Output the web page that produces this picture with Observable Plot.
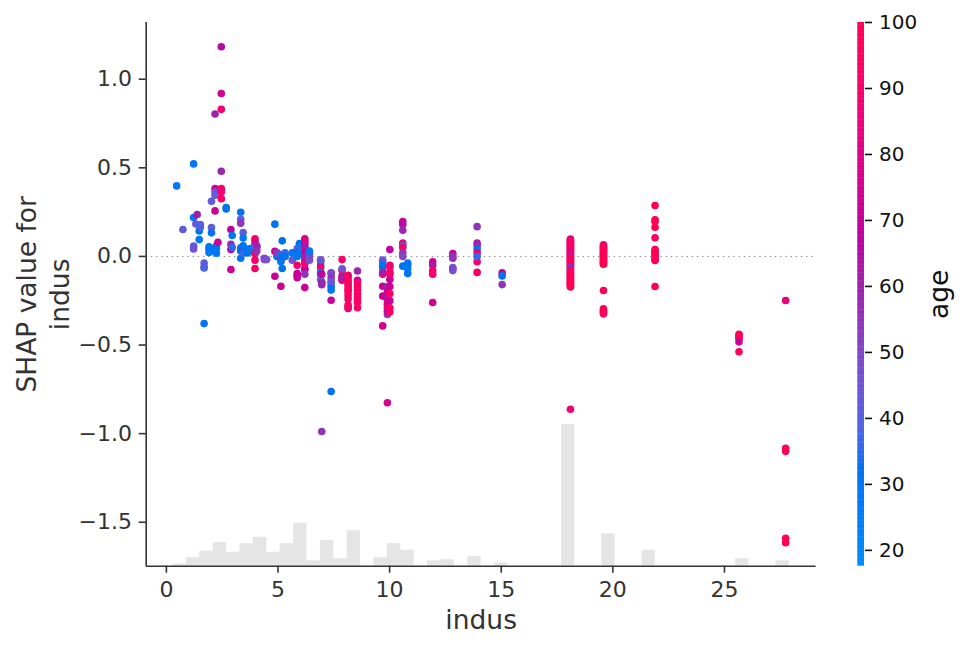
<!DOCTYPE html>
<html><head><meta charset="utf-8">
<script src="https://cdn.jsdelivr.net/npm/d3@7"></script>
<script src="https://cdn.jsdelivr.net/npm/@observablehq/plot@0.6"></script>
<style>
body{margin:0;background:#fff;}
#wrap{position:relative;width:968px;height:648px;background:#fff;}
#wrap svg{position:absolute;top:0;font-family:"DejaVu Sans",sans-serif !important;background:transparent !important;}
</style></head><body><div id="wrap"></div>
<script>
// ---------- data ----------
const indusCols = [0.46, 0.74, 1.22, 1.32, 1.38, 1.47, 1.52, 1.69, 1.91, 2.02, 2.18, 2.24, 2.31, 2.46, 2.68, 2.89, 2.95, 3.33, 3.44, 3.64, 3.78, 3.97, 4.05, 4.39, 4.49, 4.86, 4.95, 5.13, 5.19, 5.32, 5.64, 5.86, 5.96, 6.07, 6.2, 6.41, 6.91, 6.96, 7.38, 7.87, 8.14, 8.56, 9.69, 9.9, 10.01, 10.59, 10.81, 11.93, 12.83, 13.92, 15.04, 18.1, 19.58, 21.89, 25.65, 27.74];
const shapByCol = [
  [0.398],
  [0.152],
  [0.522, 0.219, 0.058, 0.042],
  [0.183],
  [0.236],
  [0.095, 0.144],
  [0.18, 0.165],
  [-0.037, -0.06, -0.065, -0.379],
  [0.054, 0.04, 0.022],
  [0.311, 0.163, 0.133, 0.03, 0.045],
  [0.804, 0.383, 0.364, 0.257, 0.345],
  [0.045, 0.018, 0.06],
  [0.08],
  [1.183, 0.919, 0.83, 0.481, 0.383, 0.364, 0.326, 0.375],
  [0.276, 0.268],
  [0.152, 0.069, 0.039, -0.074],
  [0.118, 0.05],
  [0.249, 0.21, 0.187, 0.048, -0.01, 0.03],
  [0.135, 0.104, 0.039, 0.02, 0.06],
  [0.02, 0.04],
  [0.045, 0.03],
  [0.088, 0.1, 0.07, 0.016, -0.021, -0.068, 0.05],
  [0.05, 0.06, 0.03],
  [-0.018, -0.01],
  [-0.018],
  [0.182, 0.029, -0.112],
  [0.02, 0.0, 0.02],
  [-0.02, -0.168, -0.03, 0.01],
  [-0.068, 0.088, 0.0],
  [0.02, 0.0],
  [-0.021, 0.02],
  [0.045, -0.05, -0.097, -0.106, -0.12, 0.02, 0.0],
  [0.073, 0.03],
  [0.05],
  [0.088, 0.075, 0.05, 0.02, -0.02, -0.068, -0.074, -0.176, 0.0, -0.04, 0.06, -0.1, 0.1],
  [0.016, -0.021, 0.0, 0.03],
  [-0.021, -0.031, -0.05, -0.02, -0.063, -0.09, -0.1, -0.13],
  [-0.144, -0.15, -0.1, -0.16, -0.988],
  [-0.093, -0.097, -0.12, -0.15, -0.17, -0.19, -0.247, -0.762, -0.14],
  [-0.018, -0.078, -0.11, -0.13, -0.07, -0.135, -0.12],
  [-0.106, -0.115, -0.135, -0.15, -0.16, -0.19, -0.22, -0.24, -0.275, -0.294, -0.285, -0.2, -0.175],
  [-0.082, -0.135, -0.15, -0.17, -0.19, -0.21, -0.23, -0.245, -0.29, -0.26],
  [-0.021, -0.031, -0.05, -0.063, -0.094, -0.168, -0.224, -0.392, -0.1, -0.09],
  [-0.172, -0.22, -0.25, -0.29, -0.328, -0.826, -0.2, -0.27, -0.31],
  [0.039, -0.05, -0.09, -0.13, -0.17, -0.21, -0.25, -0.29, -0.313, -0.1, -0.06],
  [0.197, 0.18, 0.148, 0.076, 0.06, 0.05, 0.02, -0.055, 0.0],
  [-0.037, -0.07, -0.097, -0.05],
  [-0.03, -0.05, -0.08, -0.1, -0.26],
  [0.016, -0.01, -0.063, -0.08, 0.0, -0.07],
  [0.168, 0.076, 0.06, 0.04, 0.02, -0.03, -0.09, 0.0],
  [-0.093, -0.11, -0.159],
  [0.098, 0.093, 0.088, 0.083, 0.078, 0.072, 0.067, 0.061, 0.055, 0.05, 0.045, 0.039, 0.034, 0.028, 0.022, 0.017, 0.011, 0.006, 0.001, -0.005, -0.01, -0.016, -0.021, -0.027, -0.032, -0.038, -0.044, -0.049, -0.055, -0.06, -0.066, -0.071, -0.077, -0.082, -0.088, -0.094, -0.099, -0.105, -0.11, -0.116, -0.122, -0.127, -0.133, -0.138, -0.144, -0.15, -0.155, -0.161, -0.166, -0.172, -0.862],
  [0.065, 0.06, 0.054, 0.049, 0.043, 0.037, 0.032, 0.026, 0.02, 0.015, 0.009, 0.004, -0.002, -0.008, -0.013, -0.019, -0.025, -0.03, -0.036, -0.041, -0.044, -0.192, -0.296, -0.304, -0.311, -0.318, -0.324],
  [0.287, 0.207, 0.197, 0.165, 0.105, 0.039, 0.032, 0.022, 0.015, 0.005, -0.008, -0.015, -0.023, -0.17],
  [-0.44, -0.447, -0.456, -0.462, -0.482, -0.538],
  [-0.249, -1.083, -1.1, -1.59, -1.615]
];
const ageByCol = [
  [28],
  [42],
  [28, 30, 42, 45],
  [44],
  [60],
  [28, 30],
  [42, 38],
  [42, 40, 38, 30],
  [28, 30, 28],
  [42, 42, 30, 25, 30],
  [60, 72, 48, 72, 42],
  [30, 28, 30],
  [72],
  [65, 72, 88, 58, 92, 90, 92, 85],
  [30, 32],
  [70, 58, 72, 72],
  [28, 35],
  [30, 42, 55, 28, 30, 30],
  [42, 28, 72, 35, 30],
  [32, 28],
  [30, 28],
  [75, 88, 72, 92, 90, 92, 40],
  [58, 60, 55],
  [48, 50],
  [46],
  [30, 72, 72],
  [30, 30, 55],
  [72, 72, 28, 35],
  [30, 32, 30],
  [35, 30],
  [45, 30],
  [42, 90, 72, 70, 72, 32, 28],
  [30, 28],
  [35],
  [72, 85, 90, 72, 72, 90, 70, 72, 60, 85, 62, 55, 80],
  [30, 45, 50, 28],
  [72, 30, 30, 42, 90, 28, 30, 45],
  [42, 58, 72, 58, 55],
  [55, 48, 55, 42, 30, 30, 72, 30, 45],
  [92, 92, 92, 90, 45, 92, 60],
  [92, 90, 95, 92, 92, 75, 92, 92, 92, 75, 95, 95, 92],
  [58, 72, 92, 92, 92, 92, 92, 95, 92, 92],
  [45, 42, 30, 30, 72, 72, 72, 75, 85, 60],
  [60, 60, 75, 90, 55, 75, 72, 80, 65],
  [72, 90, 92, 72, 72, 92, 72, 92, 92, 90, 88],
  [72, 65, 58, 88, 35, 90, 55, 30, 50],
  [28, 28, 30, 30],
  [75, 62, 90, 90, 75],
  [72, 58, 45, 45, 55, 48],
  [55, 62, 58, 30, 88, 92, 92, 35],
  [75, 30, 55],
  [75, 80, 88, 95, 72, 92, 100, 85, 95, 90, 100, 96, 88, 93, 100, 72, 95, 89, 100, 62, 94, 98, 90, 100, 85, 95, 92, 100, 97, 60, 58, 55, 62, 94, 100, 91, 96, 100, 93, 98, 100, 89, 95, 100, 92, 97, 100, 94, 98, 100, 86],
  [86, 88, 92, 98, 100, 90, 97, 100, 94, 100, 88, 96, 100, 93, 98, 100, 91, 100, 95, 99, 100, 97, 100, 94, 98, 100, 96],
  [100, 95, 98, 100, 94, 100, 97, 100, 92, 98, 100, 96, 100, 95],
  [95, 100, 92, 98, 72, 96],
  [83, 97, 99, 96, 99]
];
// histogram of indus (50 bins over the x range), non-empty bins only
const histLeft  = [0.296, 0.896, 1.497, 2.097, 2.697, 3.297, 3.897, 4.497, 5.098, 5.698, 6.298, 6.898, 7.498, 8.098, 9.299, 9.899, 10.499, 11.699, 12.300, 13.500, 14.700, 17.701, 19.501, 21.302, 25.503, 27.304];
const histCount = [2, 8, 14, 22, 13, 21, 27, 13, 21, 40, 5, 24, 7, 33, 8, 21, 15, 5, 6, 9, 3, 132, 30, 15, 7, 5];
const histBinWidth = 0.6002;
const nSamples = 506;
const xDomain = [-0.904, 29.104];
const yDomain = [-1.748, 1.320];
const ageDomain = [17.6, 100];
const xTicks = [0, 5, 10, 15, 20, 25];
const yTicks = [-1.5, -1.0, -0.5, 0.0, 0.5, 1.0];
const ageTicks = [20, 30, 40, 50, 60, 70, 80, 90, 100];

// ---------- build tables ----------
const points = [];
indusCols.forEach((x, i) => shapByCol[i].forEach((s, j) => points.push({indus: x, shap: s, age: ageByCol[i][j]})));
const hist = histLeft.map((l, i) => ({x1: l, x2: l + histBinWidth, count: histCount[i]}));

// SHAP red_blue colormap: LCH path, lab -> sRGB with D65 white (as in skimage)
function lchToHex(L, C, H) {
  const a = C * Math.cos(H), b = C * Math.sin(H);
  const fy = (L + 16) / 116, fx = a / 500 + fy, fz = fy - b / 200;
  const inv = f => { const f3 = f * f * f; return f3 > 0.008856 ? f3 : (f - 16 / 116) / 7.787; };
  const X = inv(fx) * 0.95047, Y = inv(fy) * 1.0, Z = inv(fz) * 1.08883;
  const lin = [
    3.24048134 * X - 1.53715152 * Y - 0.49853633 * Z,
    -0.96925495 * X + 1.87599 * Y + 0.04155593 * Z,
    0.05564664 * X - 0.20404134 * Y + 1.05731107 * Z
  ];
  const g = v => { v = v > 0.0031308 ? 1.055 * Math.pow(v, 1 / 2.4) - 0.055 : 12.92 * v; return Math.round(255 * Math.max(0, Math.min(1, v))); };
  return d3.rgb(g(lin[0]), g(lin[1]), g(lin[2])).formatHex();
}
function shapRedBlue(t) {
  const l = t < 0.5 ? 54 + (40 - 54) * (t / 0.5) : 40 + (54 - 40) * ((t - 0.5) / 0.5);
  const c = 70 + 20 * t;
  const h = 4.6588 + (0.35470565 + 2 * Math.PI - 4.6588) * t;
  return lchToHex(l, c, h);
}
const colorScale = {type: "linear", domain: ageDomain, interpolate: shapRedBlue, clamp: true};

const axisColor = "#333333";
const main = Plot.plot({
  width: 968, height: 648,
  marginTop: 22, marginRight: 152.4, marginBottom: 82.3, marginLeft: 145.7,
  x: {domain: xDomain},
  y: {domain: yDomain},
  color: colorScale,
  marks: [
    Plot.rect(hist, {x1: "x1", x2: "x2", y1: yDomain[0], y2: d => yDomain[0] + d.count / nSamples * (yDomain[1] - yDomain[0]), fill: "#000", fillOpacity: 0.1}),
    Plot.ruleY([0], {stroke: "#888", strokeWidth: 1, strokeDasharray: "1.4,3.8"}),
    Plot.dot(points, {x: "indus", y: "shap", fill: "age", r: 3.8}),
    Plot.ruleX([xDomain[0]], {stroke: axisColor, strokeWidth: 1.6}),
    Plot.ruleY([yDomain[0]], {stroke: axisColor, strokeWidth: 1.6}),
    Plot.axisX({ticks: xTicks, tickFormat: d => String(d), tickSize: 7, tickPadding: 7.7, fontSize: 22, color: axisColor, strokeWidth: 1.6, label: null}),
    Plot.axisY({ticks: yTicks, tickFormat: d3.format(".1f"), tickSize: 7, tickPadding: 7.2, fontSize: 22, color: axisColor, strokeWidth: 1.6, label: null}),
    Plot.text(["indus"], {text: d => d, frameAnchor: "bottom", lineAnchor: "middle", dy: 54.1, fontSize: 26.5, fill: axisColor}),
    Plot.text(["SHAP value for\nindus"], {text: d => d, frameAnchor: "left", textAnchor: "middle", lineAnchor: "middle", rotate: -90, dx: -104, lineHeight: 1.245, fontSize: 26.5, fill: axisColor})
  ]
});
main.style.left = "0px";

const rampStep = 0.4;
const ramp = d3.range(ageDomain[0], ageDomain[1], rampStep);
const bar = Plot.plot({
  width: 128, height: 648,
  marginTop: 22, marginRight: 104, marginBottom: 82.3, marginLeft: 17.3,
  x: {domain: [0, 1], axis: null},
  y: {domain: ageDomain},
  color: colorScale,
  marks: [
    Plot.rect(ramp, {x1: 0, x2: 1, y1: d => d, y2: d => Math.min(d + rampStep * 1.15, ageDomain[1]), fill: d => d}),
    Plot.axisY({anchor: "right", ticks: ageTicks, tickSize: 7, tickPadding: 7.5, fontSize: 20, color: "#111", strokeWidth: 1.6, label: null}),
    Plot.text(["age"], {text: d => d, frameAnchor: "right", textAnchor: "middle", lineAnchor: "middle", rotate: -90, dx: 75.5, fontSize: 26.5, fill: "#111"})
  ]
});
bar.style.left = "840px";

const wrap = document.getElementById("wrap");
wrap.appendChild(main);
wrap.appendChild(bar);
</script></body></html>
